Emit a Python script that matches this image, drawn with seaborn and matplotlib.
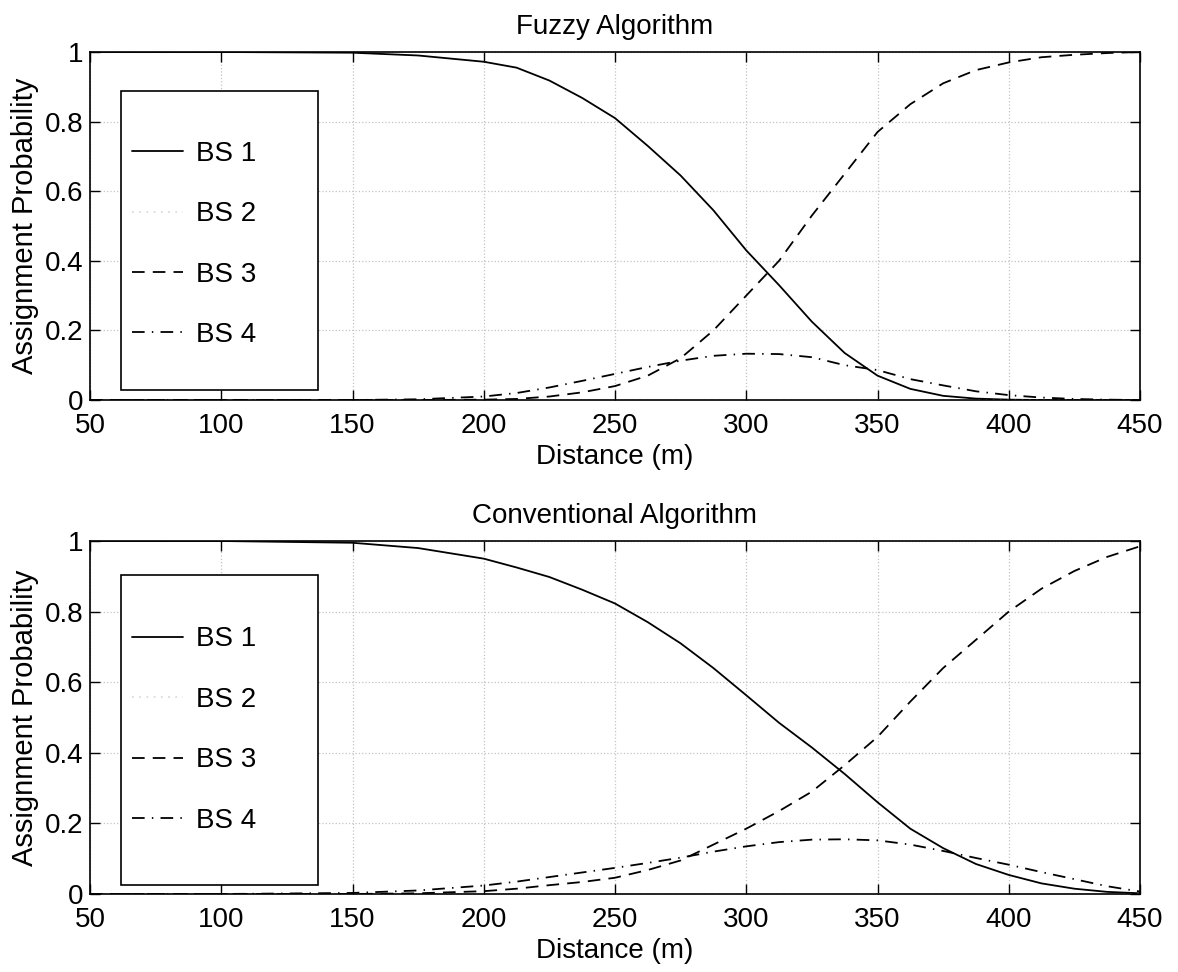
import numpy as np
import pandas as pd
import matplotlib
matplotlib.use("Agg")
import matplotlib.pyplot as plt
import seaborn as sns
from matplotlib.path import Path

# ---------------- data ----------------
distance = [50, 100, 150, 175, 200, 212.5, 225, 237.5, 250, 262.5, 275, 287.5,
            300, 312.5, 325, 337.5, 350, 362.5, 375, 387.5, 400, 412.5, 425, 437.5, 450]

stations = ["BS 1", "BS 2", "BS 3", "BS 4"]

fuzzy_bs1 = [1, 1, 0.998, 0.99, 0.972, 0.955, 0.918, 0.868, 0.81, 0.73, 0.645, 0.545,
             0.43, 0.33, 0.225, 0.135, 0.07, 0.032, 0.012, 0.004, 0.001, 0, 0, 0, 0]
fuzzy_bs2 = [0] * 25
fuzzy_bs3 = [0, 0, 0, 0, 0.001, 0.003, 0.01, 0.022, 0.04, 0.07, 0.12, 0.2,
             0.3, 0.4, 0.53, 0.65, 0.77, 0.85, 0.91, 0.948, 0.97, 0.985, 0.992, 0.997, 1.0]
fuzzy_bs4 = [0, 0, 0, 0.002, 0.01, 0.02, 0.036, 0.055, 0.075, 0.095, 0.113, 0.127,
             0.133, 0.132, 0.123, 0.1, 0.086, 0.06, 0.042, 0.025, 0.014, 0.007, 0.003, 0.001, 0]

conv_bs1 = [1, 1, 0.995, 0.98, 0.95, 0.925, 0.898, 0.862, 0.823, 0.77, 0.71, 0.64,
            0.563, 0.485, 0.415, 0.34, 0.26, 0.185, 0.13, 0.085, 0.054, 0.03, 0.015, 0.006, 0.002]
conv_bs2 = [0] * 25
conv_bs3 = [0, 0, 0, 0.002, 0.008, 0.015, 0.025, 0.034, 0.046, 0.068, 0.095, 0.14,
            0.185, 0.235, 0.29, 0.365, 0.445, 0.545, 0.64, 0.72, 0.80, 0.865, 0.915, 0.955, 0.985]
conv_bs4 = [0, 0, 0.003, 0.01, 0.024, 0.035, 0.048, 0.061, 0.074, 0.088, 0.103, 0.12,
            0.135, 0.147, 0.154, 0.155, 0.152, 0.14, 0.122, 0.102, 0.083, 0.062, 0.042, 0.022, 0.007]

x_ticks = [50, 100, 150, 200, 250, 300, 350, 400, 450]
y_ticks = [0, 0.2, 0.4, 0.6, 0.8, 1]
y_tick_labels = ["0", "0.2", "0.4", "0.6", "0.8", "1"]

# ---------------- style ----------------
sns.set_style("ticks")
plt.rcParams["font.family"] = ["Liberation Sans", "DejaVu Sans"]
plt.rcParams["axes.linewidth"] = 1.2
plt.rcParams["text.color"] = "black"
plt.rcParams["axes.labelcolor"] = "black"

palette = {"BS 1": "black", "BS 2": "#dcdcdc", "BS 3": "black", "BS 4": "black"}
dashes = {"BS 1": "", "BS 2": (1, 3), "BS 3": (7, 4.5), "BS 4": (7, 4, 0.8, 4)}

W, H = 1178, 972
fig = plt.figure(figsize=(W / 100, H / 100), dpi=100)
ax_top = fig.add_axes([90 / W, 1 - 400 / H, 1050 / W, 348 / H])
ax_bot = fig.add_axes([90 / W, 1 - 894 / H, 1050 / W, 353 / H])


def make_box(ext_holder):
    # ext_holder = [extra space above, extra space below] in pixels
    def box(x0, y0, width, height, mutation_size):
        top, bottom = ext_holder
        verts = [(x0, y0 - bottom), (x0 + width, y0 - bottom), (x0 + width, y0 + height + top),
                 (x0, y0 + height + top), (x0, y0 - bottom)]
        return Path(verts, closed=True)
    return box


def draw(ax, series, title, leg_center_px, axis_top_px, axis_h_px):
    df = pd.DataFrame({
        "Distance": np.tile(distance, len(stations)),
        "Probability": np.concatenate([np.asarray(s, float) for s in series]),
        "Station": np.repeat(stations, len(distance)),
    })
    sns.lineplot(data=df, x="Distance", y="Probability", hue="Station", style="Station",
                 hue_order=stations, style_order=stations, palette=palette, dashes=dashes,
                 estimator=None, sort=False, linewidth=1.3, legend=False, ax=ax)
    ax.set_xlim(50, 450)
    ax.set_ylim(0, 1)
    ax.set_xticks(x_ticks)
    ax.set_yticks(y_ticks)
    ax.set_yticklabels(y_tick_labels)
    ax.grid(True, linestyle=":", color="#c4c4c4", linewidth=0.9)
    ax.tick_params(direction="in", length=7, width=1, top=True, right=True,
                   labelsize=20, colors="black")
    ax.tick_params(axis="x", pad=9)
    ax.tick_params(axis="y", pad=5)
    ax.set_xlabel("Distance (m)", fontsize=20, labelpad=4)
    ax.set_ylabel("Assignment Probability", fontsize=21, labelpad=4)
    ax.set_title(title, fontsize=20, pad=13)
    for s in ax.spines.values():
        s.set_visible(True)
        s.set_color("black")

    lines = ax.get_lines()[:4]
    x0 = (121 - 90) / 1050
    w = 197 / 1050
    yc = (axis_top_px + axis_h_px - leg_center_px) / axis_h_px
    leg = ax.legend(lines, stations, loc="center left", bbox_to_anchor=(x0, yc, w, 0),
                    mode="expand", borderaxespad=0, borderpad=0.4, fontsize=20,
                    handlelength=1.83, handletextpad=0.47, labelspacing=1.24,
                    frameon=True, fancybox=False, edgecolor="black", framealpha=1)
    leg.get_frame().set_linewidth(1.2)
    for t in leg.get_texts():
        t.set_color("black")
    return leg


leg1 = draw(ax_top, [fuzzy_bs1, fuzzy_bs2, fuzzy_bs3, fuzzy_bs4], "Fuzzy Algorithm",
            244.5, 52, 348)
leg2 = draw(ax_bot, [conv_bs1, conv_bs2, conv_bs3, conv_bs4], "Conventional Algorithm",
            730, 541, 353)

fig.canvas.draw()
# frame extents (top px, bottom px) and legend centre, all in image pixels from the top
for leg, (ftop, fbot, cen) in ((leg1, (91, 390, 244.5)), (leg2, (575, 885, 730))):
    h = leg.get_window_extent().height
    top_ext = max(0.0, (cen - h / 2) - ftop)
    bot_ext = max(0.0, fbot - (cen + h / 2))
    leg.get_frame().set_boxstyle(make_box([top_ext, bot_ext]))

fig.savefig("out.png", dpi=100)
